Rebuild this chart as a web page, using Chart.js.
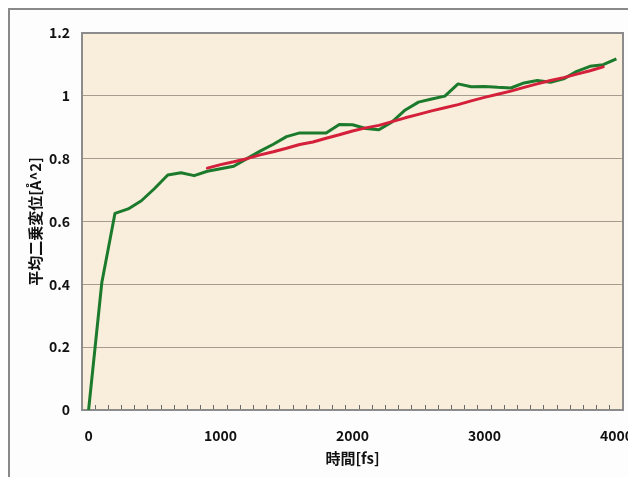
<!DOCTYPE html>
<html>
<head>
<meta charset="utf-8">
<script src="https://cdn.jsdelivr.net/npm/chart.js@4/dist/chart.umd.min.js"></script>
<style>
  html, body { margin: 0; padding: 0; background: #ffffff; overflow: hidden; width: 628px; height: 477px; }
  #frame { position: absolute; left: 8px; top: 8px; width: 700px; height: 600px; border: 2px solid #8a8a8a; background: #fdfdfd; }
  #c { position: absolute; left: 0; top: 0; }
</style>
</head>
<body>
<div id="frame"></div>
<canvas id="c" width="628" height="477"></canvas>
<script>
// Time categories [fs]
const times = ['0','100','200','300','400','500','600','700','800','900',
  '1000','1100','1200','1300','1400','1500','1600','1700','1800','1900',
  '2000','2100','2200','2300','2400','2500','2600','2700','2800','2900',
  '3000','3100','3200','3300','3400','3500','3600','3700','3800','3900','4000'];

// Mean squared displacement (green)
const msd = [0, 0.405, 0.626, 0.640, 0.666, 0.705, 0.748, 0.755, 0.746, 0.760,
  0.768, 0.776, 0.800, 0.824, 0.846, 0.870, 0.882, 0.882, 0.882, 0.909,
  0.908, 0.896, 0.892, 0.917, 0.955, 0.980, 0.990, 0.999, 1.038, 1.029,
  1.030, 1.027, 1.025, 1.041, 1.049, 1.043, 1.054, 1.078, 1.094, 1.099, 1.118];

// Linear fit (red), 900 - 3900 fs
const fit = [null, null, null, null, null, null, null, null, null, 0.770,
  0.781, 0.790, 0.800, 0.812, 0.822, 0.833, 0.845, 0.853, 0.865, 0.876,
  0.888, 0.898, 0.906, 0.918, 0.930, 0.941, 0.952, 0.962, 0.972, 0.984,
  0.995, 1.005, 1.015, 1.027, 1.038, 1.049, 1.058, 1.069, 1.080, 1.092, null];

const yTicks = [0, 0.2, 0.4, 0.6, 0.8, 1, 1.2];
const yTickLabels = ['0', '0.2', '0.4', '0.6', '0.8', '1', '1.2'];
const xLabelStep = 1000;
const xTitle = '時間[fs]';
const yTitle = '平均二乗変位[Å^2]';

const FONT = "'Noto Sans CJK JP', 'Noto Sans', sans-serif";

const plotBg = {
  id: 'plotBg',
  beforeDraw(chart) {
    const { ctx, chartArea: a } = chart;
    ctx.save();
    ctx.fillStyle = '#f8eedb';
    ctx.fillRect(a.left, a.top, a.right - a.left, a.bottom - a.top);
    ctx.restore();
  },
  beforeDatasetsDraw(chart) {
    const { ctx, chartArea: a } = chart;
    ctx.save();
    ctx.strokeStyle = '#8c8c8c';
    ctx.lineWidth = 2;
    ctx.strokeRect(a.left, a.top, a.right - a.left, a.bottom - a.top);
    ctx.restore();
  }
};

new Chart(document.getElementById('c'), {
  type: 'line',
  data: {
    labels: times,
    datasets: [
      { label: 'fit', data: fit, borderColor: '#d4203a', borderWidth: 3, pointRadius: 0,
        tension: 0, spanGaps: false, order: 0, borderJoinStyle: 'round', borderCapStyle: 'round' },
      { label: 'MSD', data: msd, borderColor: '#1c7a2c', borderWidth: 3, pointRadius: 0,
        tension: 0, order: 1, borderJoinStyle: 'round' }
    ]
  },
  options: {
    responsive: false,
    animation: false,
    events: [],
    layout: { padding: { top: 33, right: 5, left: 0, bottom: 0 } },
    plugins: { legend: { display: false }, tooltip: { enabled: false } },
    scales: {
      x: {
        type: 'category',
        offset: true,
        grid: { offset: true, drawOnChartArea: false, drawTicks: true, tickLength: -5, color: '#6a6a6a', lineWidth: 1 },
        border: { display: true, color: '#8c8c8c', width: 2 },
        ticks: {
          autoSkip: false, maxRotation: 0, minRotation: 0, padding: 22,
          color: '#111', font: { family: FONT, size: 14, weight: 'bold' },
          callback: function (v) { const t = Number(this.getLabelForValue(v)); return t % xLabelStep === 0 ? String(t) : ''; }
        },
        title: { display: true, text: xTitle, color: '#111', font: { family: FONT, size: 15, weight: 'bold' }, padding: { top: 0, bottom: 10 } },
        afterFit(s) { s.height = 67; s.paddingLeft = 0; s.paddingRight = 0; }
      },
      y: {
        min: 0, max: 1.2,
        afterBuildTicks(s) { s.ticks = yTicks.map(v => ({ value: v })); },
        grid: { color: '#a49c8e', lineWidth: 1, drawTicks: false },
        border: { display: true, color: '#8c8c8c', width: 2 },
        ticks: {
          padding: 12, color: '#111', font: { family: FONT, size: 14, weight: 'bold' },
          callback: (v) => { const i = yTicks.findIndex(t => Math.abs(t - v) < 1e-9); return i >= 0 ? yTickLabels[i] : ''; }
        },
        title: { display: true, text: yTitle, color: '#111', font: { family: FONT, size: 15, weight: 'bold' }, padding: { top: 26, bottom: 0 } },
        afterFit(s) { s.width = 82; s.paddingTop = 0; s.paddingBottom = 0; }
      }
    }
  },
  plugins: [plotBg]
});
</script>
</body>
</html>
